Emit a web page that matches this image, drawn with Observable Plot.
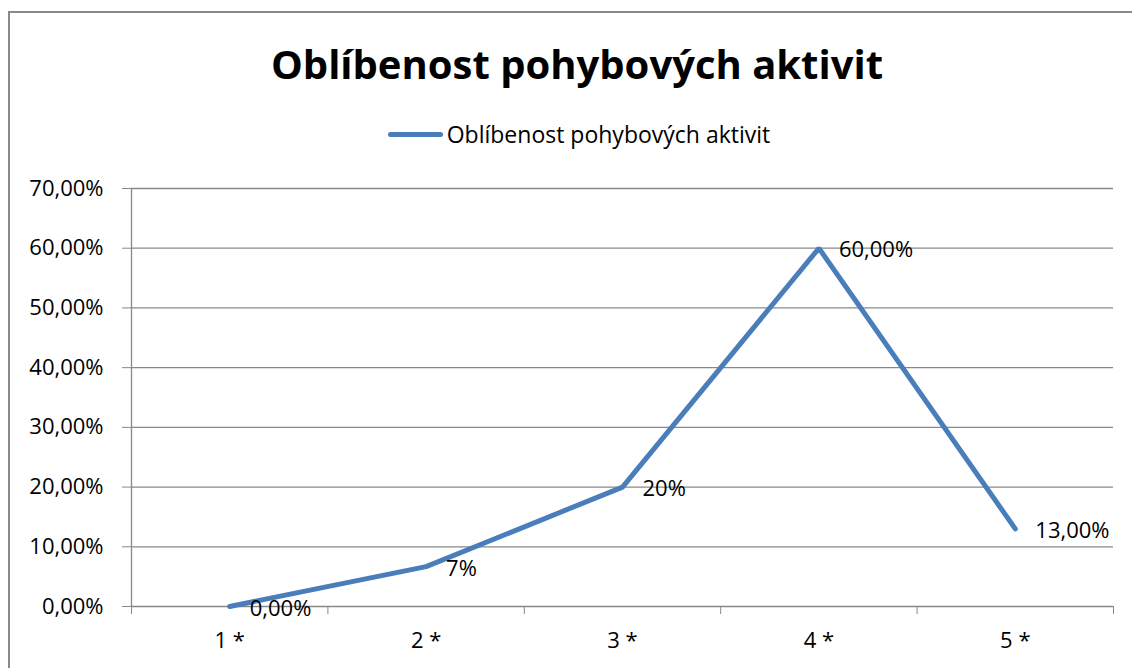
<!DOCTYPE html>
<html>
<head>
<meta charset="utf-8">
<script src="https://cdn.jsdelivr.net/npm/d3@7"></script>
<script src="https://cdn.jsdelivr.net/npm/@observablehq/plot@0.6"></script>
<style>
  html, body { margin: 0; padding: 0; background: #fff; overflow: hidden; }
  #wrap { position: relative; width: 1132px; height: 668px; overflow: hidden; font-family: "Open Sans", sans-serif; color: #000; }
  #frame { position: absolute; left: 8px; top: 11px; width: 1124px; height: 657px; border-left: 2px solid #898989; border-top: 2px solid #898989; box-sizing: border-box; }
  #title { position: absolute; left: 0; top: 37px; width: 1154px; text-align: center; font-size: 40px; font-weight: bold; line-height: 54px; }
  #legend { position: absolute; left: 0; top: 118px; width: 1158px; display: flex; justify-content: center; align-items: center; font-size: 23px; line-height: 32px; }
  #legend .sw { display: inline-block; width: 55px; height: 5px; border-radius: 3px; background: #4A7EBB; margin-right: 4px; }
  #chart { position: absolute; left: 0; top: 160px; }
  #cover { position: fixed; left: 1114px; top: 0; width: 40px; height: 700px; background: #fff; z-index: 10; }
</style>
</head>
<body>
<div id="wrap">
  <div id="frame"></div>
  <div id="title">Oblíbenost pohybových aktivit</div>
  <div id="legend"><span class="sw"></span><span>Oblíbenost pohybových aktivit</span></div>
  <div id="chart"></div>
</div>
<script>
const categories = ["1 *", "2 *", "3 *", "4 *", "5 *"];
const values = [0, 6.67, 20, 60, 13];
const labels = ["0,00%", "7%", "20%", "60,00%", "13,00%"];
const yTicks = [0, 10, 20, 30, 40, 50, 60, 70];

const data = categories.map((c, i) => ({ i: i + 1, cat: c, v: values[i], label: labels[i] }));
const boundaries = d3.range(0.5, categories.length + 1, 1);
const fmt = d => d.toFixed(2).replace(".", ",") + "%";

const chart = Plot.plot({
  width: 1132,
  height: 508,
  marginTop: 28,
  marginBottom: 62,
  marginLeft: 131,
  marginRight: 19,
  style: { fontFamily: "Open Sans, sans-serif", fontSize: "22px", color: "#000", background: "transparent", overflow: "visible" },
  x: { type: "linear", domain: [0.5, categories.length + 0.5] },
  y: { domain: [0, 70] },
  marks: [
    Plot.ruleY(yTicks, { stroke: "#888", strokeWidth: 1.3 }),
    Plot.ruleX([0.5], { stroke: "#888", strokeWidth: 1.3 }),
    Plot.axisY({ ticks: yTicks, tickSize: 9, tickPadding: 19, tickFormat: fmt, label: null, stroke: "#888", fill: "#000", fontSize: 22 }),
    Plot.axisX({ ticks: boundaries, tickSize: 8, tickFormat: () => "", label: null, stroke: "#888" }),
    Plot.axisX({ ticks: d3.range(1, categories.length + 1), tickSize: 0, tickPadding: 26, tickFormat: d => categories[d - 1], label: null, fill: "#000", fontSize: 22 }),
    Plot.line(data, { x: "i", y: "v", stroke: "#4A7EBB", strokeWidth: 5, strokeLinecap: "round", strokeLinejoin: "miter" }),
    Plot.text(data, { x: "i", y: "v", text: "label", dx: 20, dy: 2, textAnchor: "start", lineAnchor: "middle", fill: "#000", fontSize: 22 })
  ]
});
document.getElementById("chart").appendChild(chart);
</script>
</body>
</html>
